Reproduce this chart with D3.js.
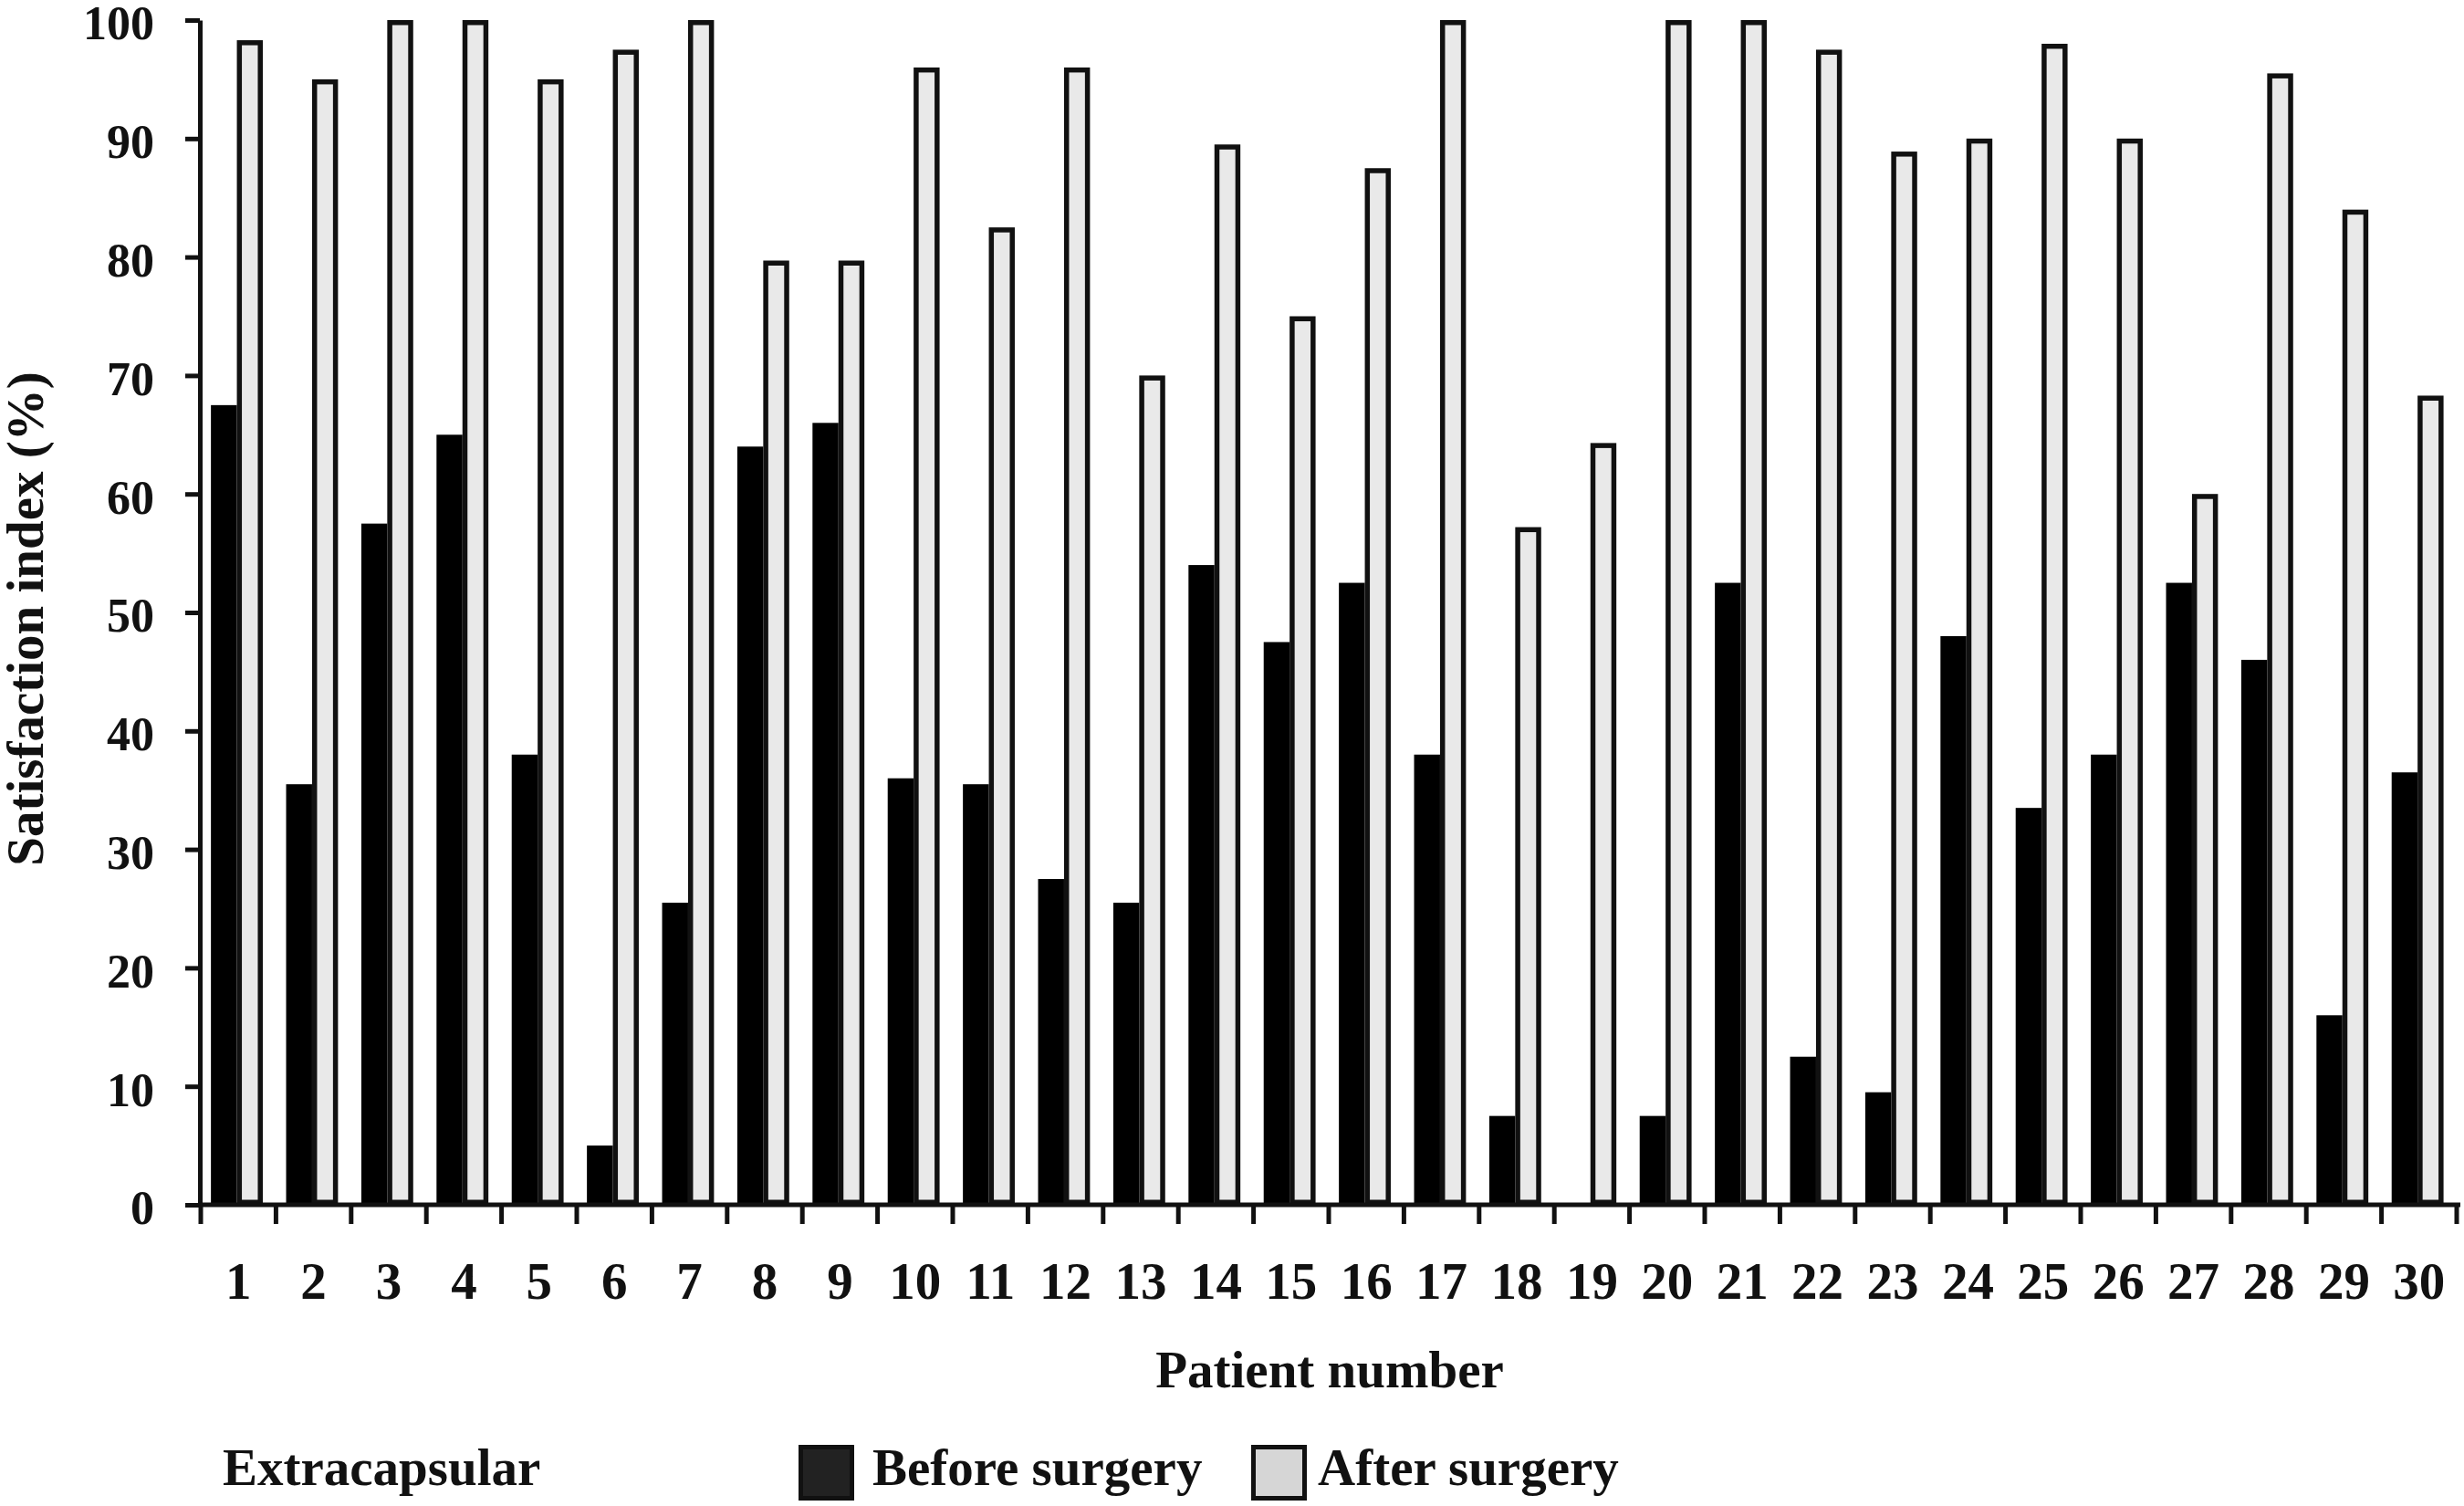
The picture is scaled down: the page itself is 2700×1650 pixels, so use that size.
<!DOCTYPE html>
<html lang="en">
<head>
  <meta charset="utf-8" />
  <title>Satisfaction index – Extracapsular</title>
  <script src="https://d3js.org/d3.v7.min.js"></script>
  <style>
    html, body {
      margin: 0;
      padding: 0;
      background: #ffffff;
    }

    svg#chart {
      display: block;
    }

    text {
      font-family: "Liberation Serif", "Times New Roman", serif;
      font-weight: bold;
      fill: #111;
    }

    .axis path,
    .axis line,
    .tick-mark {
      stroke: #111;
      stroke-width: 5px;
      fill: none;
    }

    .bar-before {
      fill: #000;
    }

    .bar-after {
      fill: #e9e9e9;
      stroke: #111;
      stroke-width: 5.5px;
    }
  </style>
</head>
<body>
  <svg id="chart" width="2700" height="1650"></svg>

  <script>
    // values
    const patients = d3.range(1, 31).map(String);
    const beforeSurgery = [67.5, 35.5, 57.5, 65, 38, 5, 25.5, 64, 66, 36,
                           35.5, 27.5, 25.5, 54, 47.5, 52.5, 38, 7.5, 0, 7.5,
                           52.5, 12.5, 9.5, 48, 33.5, 38, 52.5, 46, 16, 36.5];
    const afterSurgery = [98.3, 95, 100, 100, 95, 97.5, 100, 79.7, 79.7, 96,
                          82.5, 96, 70, 89.5, 75, 87.5, 100, 57.2, 64.3, 100,
                          100, 97.5, 88.9, 90, 98, 90, 60, 95.5, 84, 68.3];
    const seriesKeys = ["before", "after"];
    const seriesLabels = ["Before surgery", "After surgery"];
    const yTicks = [0, 10, 20, 30, 40, 50, 60, 70, 80, 90, 100];

    const svg = d3.select("#chart");

    const x = d3.scaleBand()
      .domain(patients)
      .range([220, 2692])
      .padding(0);

    const x1 = d3.scaleBand()
      .domain(seriesKeys)
      .range([x.bandwidth() * 0.135, x.bandwidth() * 0.825])
      .padding(0);

    const y = d3.scaleLinear()
      .domain([0, 100])
      .range([1320, 22]);

    // bars
    const rows = patients.map((p, i) => ({
      patient: p,
      values: [
        { key: "before", value: beforeSurgery[i] },
        { key: "after", value: afterSurgery[i] }
      ]
    }));

    const groups = svg.append("g")
      .selectAll("g")
      .data(rows)
      .join("g")
      .attr("transform", d => `translate(${x(d.patient)},0)`);

    groups.selectAll("rect.bar-before")
      .data(d => d.values.filter(v => v.key === "before" && v.value > 0))
      .join("rect")
      .attr("class", "bar-before")
      .attr("x", d => x1(d.key))
      .attr("y", d => y(d.value))
      .attr("width", x1.bandwidth())
      .attr("height", d => y(0) - y(d.value));

    // outlined bars: keep the stroke inside the bar edges
    const sw = 5.5;
    groups.selectAll("rect.bar-after")
      .data(d => d.values.filter(v => v.key === "after"))
      .join("rect")
      .attr("class", "bar-after")
      .attr("x", d => x1(d.key) + sw / 2)
      .attr("y", d => y(d.value) + sw / 2)
      .attr("width", x1.bandwidth() - sw)
      .attr("height", d => y(0) - y(d.value) - sw);

    // y axis
    svg.append("g")
      .attr("class", "axis")
      .attr("transform", "translate(219,0)")
      .call(d3.axisLeft(y).tickValues(yTicks).tickSize(16).tickSizeOuter(0).tickPadding(34))
      .call(g => g.selectAll("text")
        .style("font-size", "52px")
        .attr("dy", "0.4em"));

    // x axis: labels at band centres, ticks on band boundaries
    svg.append("g")
      .attr("class", "axis")
      .attr("transform", "translate(0,1320)")
      .call(d3.axisBottom(x).tickSize(0).tickPadding(63))
      .call(g => g.select(".domain").remove())
      .call(g => g.selectAll("text").style("font-size", "57px"));

    svg.append("line")
      .attr("class", "tick-mark")
      .attr("x1", 217).attr("x2", 2696)
      .attr("y1", y(0)).attr("y2", y(0));

    const boundaries = patients.map(p => x(p)).concat([x.range()[1]]);
    svg.append("g")
      .selectAll("line")
      .data(boundaries)
      .join("line")
      .attr("class", "tick-mark")
      .attr("x1", d => d).attr("x2", d => d)
      .attr("y1", y(0)).attr("y2", y(0) + 21);

    // axis titles
    svg.append("text")
      .attr("x", 1457)
      .attr("y", 1520)
      .attr("text-anchor", "middle")
      .style("font-size", "57px")
      .text("Patient number");

    svg.append("text")
      .attr("transform", "translate(47,678) rotate(-90)")
      .attr("text-anchor", "middle")
      .style("font-size", "57px")
      .text("Satisfaction index (%)");

    // legend
    const legend = svg.append("g");

    legend.append("text")
      .attr("x", 244)
      .attr("y", 1627)
      .style("font-size", "57px")
      .text("Extracapsular");

    const swatchX = [875, 1371];
    const swatchFill = ["#222", "#d6d6d6"];
    const legendItems = legend.selectAll("g.item")
      .data(seriesLabels)
      .join("g")
      .attr("class", "item")
      .attr("transform", (d, i) => `translate(${swatchX[i]},1583)`);

    legendItems.append("rect")
      .attr("x", 2.5).attr("y", 2.5)
      .attr("width", 56).attr("height", 56)
      .attr("fill", (d, i) => swatchFill[i])
      .attr("stroke", "#111")
      .attr("stroke-width", 5);

    legendItems.append("text")
      .attr("x", (d, i) => i === 0 ? 81 : 73)
      .attr("y", 44)
      .style("font-size", "57px")
      .text(d => d);
  </script>
</body>
</html>
